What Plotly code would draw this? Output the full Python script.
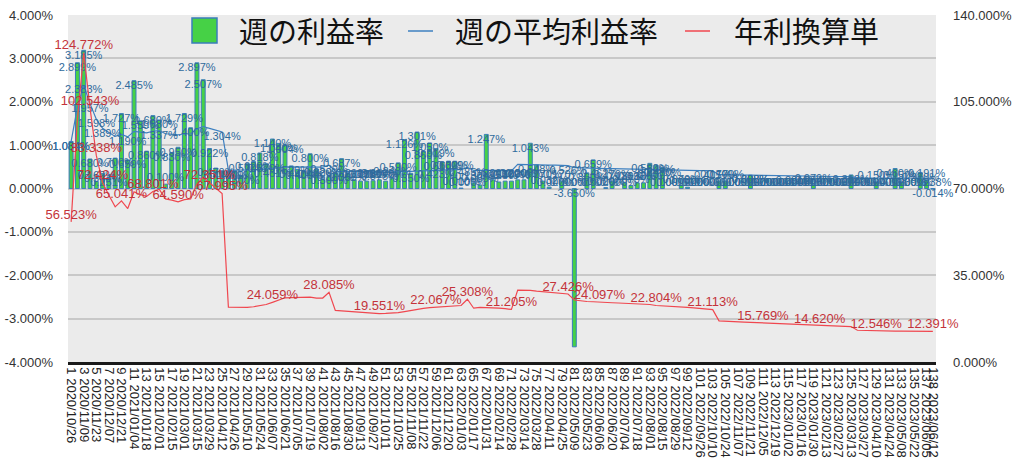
import datetime as dt
import plotly.graph_objects as go

# ---------------- data ----------------
start_date = dt.date(2020, 10, 26)
n_weeks = 138
week_labels = [f"{i + 1} {(start_date + dt.timedelta(weeks=i)).strftime('%Y/%m/%d')}" for i in range(n_weeks)]

weekly_rate = [
    1.084, 2.899, 3.185, 0.680, 0.162, 0.344, 0.251, 0.700, 1.727, 0.659,
    2.485, 1.559, 0.860, 1.680, 1.580, 0.100, 0.830, 0.950, 1.729, 1.400,
    2.897, 2.507, 0.922, 0.470, 0.410, 0.410, 0.410, 0.300, 0.570, 0.620,
    0.818, 0.570, 1.140, 1.040, 1.004, 0.520, 0.440, 0.400, 0.800, 0.440,
    0.220, 0.300, 0.360, 0.687, 0.360, 0.200, 0.170, 0.170, 0.180, 0.200,
    0.170, 0.240, 0.590, 1.126, 0.350, 1.301, 0.860, 1.050, 0.919, 0.610,
    0.630, 0.629, 0.010, 0.000, 0.130, 0.080, 1.247, 0.200, 0.150, 0.170,
    0.170, 0.200, 0.200, 1.043, 0.548, 0.170, 0.032, 0.000, 0.170, 0.000,
    -3.650, 0.000, 0.360, 0.659, 0.000, 0.020, 0.170, 0.000, 0.130, 0.070,
    0.130, 0.130, 0.580, 0.540, 0.480, 0.000, 0.000, 0.070, 0.030, 0.000,
    0.000, 0.000, 0.000, 0.170, 0.170, 0.000, 0.000, 0.000, 0.308, 0.000,
    0.000, 0.000, 0.000, 0.000, 0.000, 0.000, 0.000, 0.000, 0.079, 0.000,
    0.000, 0.000, 0.000, 0.000, 0.312, 0.000, 0.000, 0.000, 0.150, 0.000,
    0.000, 0.460, 0.150, 0.000, 0.000, 0.370, 0.191, -0.014,
]

avg_rate = [
    1.084, 1.880, 2.383, 1.957, 1.598, 1.389, 1.291, 1.201, 1.247, 1.190,
    1.318, 1.295, 1.281, 1.320, 1.337, 1.262, 1.252, 1.239, 1.256, 1.262,
    1.377, 1.429, 1.388, 1.346, 1.304, 0.424, 0.422, 0.420, 0.422, 0.428,
    0.435, 0.445, 0.461, 0.479, 0.497, 0.499, 0.501, 0.502, 0.502, 0.495,
    0.495, 0.539, 0.399, 0.395, 0.391, 0.387, 0.385, 0.384, 0.378, 0.375,
    0.376, 0.378, 0.382, 0.389, 0.399, 0.407, 0.414, 0.420, 0.423, 0.428,
    0.432, 0.435, 0.437, 0.485, 0.416, 0.422, 0.422, 0.418, 0.416, 0.412,
    0.407, 0.556, 0.556, 0.554, 0.549, 0.545, 0.541, 0.537, 0.531, 0.526,
    0.479, 0.472, 0.468, 0.466, 0.462, 0.460, 0.458, 0.456, 0.455, 0.453,
    0.451, 0.449, 0.445, 0.437, 0.435, 0.433, 0.430, 0.426, 0.422, 0.418,
    0.414, 0.410, 0.405, 0.318, 0.315, 0.313, 0.311, 0.309, 0.308, 0.305,
    0.302, 0.301, 0.299, 0.297, 0.295, 0.291, 0.290, 0.288, 0.284, 0.280,
    0.279, 0.278, 0.277, 0.276, 0.274, 0.245, 0.244, 0.242, 0.241, 0.240,
    0.240, 0.239, 0.239, 0.239, 0.238, 0.238, 0.238, 0.238,
]

annual_rate = [
    56.523, 98.0, 124.772, 102.543, 83.338, 72.424, 67.3, 62.6, 65.041, 61.9,
    68.7, 67.5, 66.8, 68.801, 69.7, 65.8, 65.3, 64.590, 65.5, 65.8,
    71.8, 74.5, 72.351, 70.2, 67.995, 22.1, 22.0, 21.9, 22.0, 22.3,
    22.7, 23.2, 24.059, 25.0, 25.9, 26.0, 26.1, 26.2, 26.2, 25.8,
    25.8, 28.085, 20.8, 20.6, 20.4, 20.2, 20.1, 20.0, 19.7, 19.551,
    19.6, 19.7, 19.9, 20.3, 20.8, 21.2, 21.6, 21.9, 22.067, 22.3,
    22.5, 22.7, 22.8, 25.308, 21.7, 22.0, 22.0, 21.8, 21.7, 21.5,
    21.205, 29.0, 29.0, 28.9, 28.6, 28.4, 28.2, 28.0, 27.7, 27.426,
    25.0, 24.6, 24.4, 24.3, 24.097, 24.0, 23.9, 23.8, 23.7, 23.6,
    23.5, 23.4, 23.2, 22.804, 22.7, 22.6, 22.4, 22.2, 22.0, 21.8,
    21.6, 21.4, 21.113, 16.6, 16.4, 16.3, 16.2, 16.1, 16.0, 15.9,
    15.769, 15.7, 15.6, 15.5, 15.4, 15.3, 15.1, 15.0, 14.8, 14.620,
    14.55, 14.5, 14.45, 14.4, 14.3, 12.8, 12.7, 12.6, 12.546, 12.52,
    12.5, 12.48, 12.46, 12.44, 12.42, 12.41, 12.40, 12.391,
]

annual_label_idx = [0, 2, 3, 4, 5, 8, 13, 17, 22, 24, 32, 41, 49, 58, 63, 70, 79,
                    84, 93, 102, 110, 119, 128, 137]
avg_label_idx = [0, 2, 3, 4, 5, 9, 14, 24, 32, 41, 49, 58, 63, 70, 79, 84, 93,
                 102, 108, 115, 118, 124, 129, 133, 137]

series_names = ["週の利益率", "週の平均利益率", "年利換算単"]
left_ticks = [-4, -3, -2, -1, 0, 1, 2, 3, 4]
right_ticks = [0, 35, 70, 105, 140]

# ---------------- styles ----------------
GREEN = "#46d146"
BAR_EDGE = "#3a7dbb"
BLUE = "#3e80c0"
BLUE_TXT = "#2e6a9c"
RED = "#f0474f"
RED_TXT = "#c4333a"
NUM_FONT = "Liberation Sans, Arial, sans-serif"
JP_FONT = "Noto Sans CJK JP, sans-serif"

fig = go.Figure()

fig.add_trace(go.Bar(
    x=week_labels, y=weekly_rate, name=series_names[0],
    marker=dict(color=GREEN,
                line=dict(color=BAR_EDGE, width=[1 if v != 0 else 0 for v in weekly_rate])),
    width=0.62, showlegend=False, hoverinfo="skip",
))

fig.add_trace(go.Scatter(
    x=week_labels, y=avg_rate, name=series_names[1], mode="lines",
    line=dict(color=BLUE, width=1.2), showlegend=False, hoverinfo="skip",
))

# bar value labels
bar_lab_y = [v if v >= 0 else 0 for v in weekly_rate]
bar_lab_pos = [("bottom center" if v >= 0.25 else "top center") if v >= 0 else "bottom center"
               for v in weekly_rate]
fig.add_trace(go.Scatter(
    x=week_labels, y=bar_lab_y, mode="text", cliponaxis=False,
    text=[f"{v:.3f}%" for v in weekly_rate], textposition=bar_lab_pos,
    textfont=dict(family=NUM_FONT, size=11, color=BLUE_TXT),
    showlegend=False, hoverinfo="skip",
))

# average labels
fig.add_trace(go.Scatter(
    x=[week_labels[i] for i in avg_label_idx], y=[avg_rate[i] for i in avg_label_idx],
    mode="text", cliponaxis=False, text=[f"{avg_rate[i]:.3f}%" for i in avg_label_idx],
    textposition="bottom center",
    textfont=dict(family=NUM_FONT, size=11, color=BLUE_TXT),
    showlegend=False, hoverinfo="skip",
))

fig.add_trace(go.Scatter(
    x=week_labels, y=annual_rate, name=series_names[2], mode="lines",
    line=dict(color=RED, width=1.2), yaxis="y2", showlegend=False, hoverinfo="skip",
))
fig.add_trace(go.Scatter(
    x=[week_labels[i] for i in annual_label_idx], y=[annual_rate[i] for i in annual_label_idx],
    mode="text", cliponaxis=False, text=[f"{annual_rate[i]:.3f}%" for i in annual_label_idx],
    textposition="top center", yaxis="y2",
    textfont=dict(family=NUM_FONT, size=13, color=RED_TXT),
    showlegend=False, hoverinfo="skip",
))

tick_vals = [week_labels[i] for i in range(0, n_weeks, 2)] + [week_labels[-1]]

fig.update_layout(
    width=1024, height=475,
    margin=dict(l=68, r=88, t=15, b=113, autoexpand=False),
    paper_bgcolor="white", plot_bgcolor="#ebebeb",
    font=dict(family=NUM_FONT, size=13, color="#333333"),
    bargap=0.3,
    xaxis=dict(
        type="category", range=[-0.5, n_weeks - 0.5],
        tickmode="array", tickvals=tick_vals, ticktext=tick_vals,
        tickangle=90, tickfont=dict(family=NUM_FONT, size=13, color="#222222"),
        showgrid=False, showline=True, linecolor="#1a1a1a", linewidth=2.5,
        ticks="", automargin=False, fixedrange=True,
    ),
    yaxis=dict(
        range=[-4, 4], tickmode="array", tickvals=left_ticks,
        ticktext=[f"{v:.3f}%" for v in left_ticks],
        showgrid=True, gridcolor="#c8c8c8", gridwidth=1.5, zeroline=False,
        ticks="", ticklabelstandoff=14, tickfont=dict(size=13, color="#333333"),
        automargin=False,
    ),
    yaxis2=dict(
        range=[0, 140], overlaying="y", side="right", tickmode="array",
        tickvals=right_ticks, ticktext=[f"{v:.3f}%" for v in right_ticks],
        showgrid=False, zeroline=False, ticks="", ticklabelstandoff=16,
        tickfont=dict(size=13, color="#333333"), automargin=False,
    ),
)

# ---------------- legend drawn in plot area ----------------
def px_x(px):
    return (px - 68) / 868.0

def px_y(py):
    return (362 - py) / 347.0

fig.add_shape(type="rect", xref="paper", yref="paper",
              x0=px_x(192), x1=px_x(217), y0=px_y(43), y1=px_y(18),
              fillcolor=GREEN, line=dict(color=BAR_EDGE, width=1.5))
fig.add_shape(type="line", xref="paper", yref="paper",
              x0=px_x(408), x1=px_x(433), y0=px_y(31), y1=px_y(31),
              line=dict(color=BLUE, width=1.5))
fig.add_shape(type="line", xref="paper", yref="paper",
              x0=px_x(685), x1=px_x(710), y0=px_y(31), y1=px_y(31),
              line=dict(color=RED, width=1.5))
for name, left in zip(series_names, [237, 453, 732]):
    fig.add_annotation(x=px_x(left), y=px_y(30), xref="paper", yref="paper",
                       text=name, showarrow=False, xanchor="left", yanchor="middle",
                       font=dict(family=JP_FONT, size=29, color="#111111"))

fig.write_html("out.html")
